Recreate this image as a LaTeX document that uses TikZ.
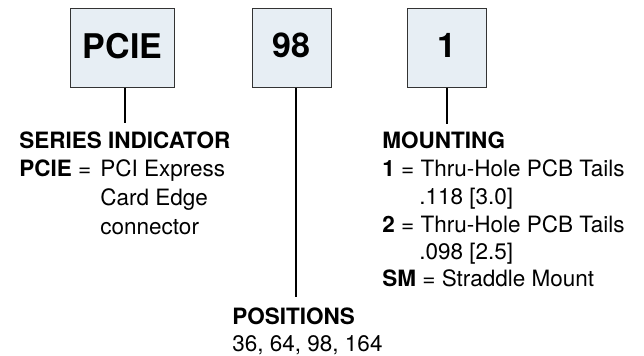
\documentclass[tikz,border=0pt]{standalone}
\usepackage{fontspec}
\setmainfont{TeX Gyre Heros}
\definecolor{boxfill}{HTML}{E7EEF4}
\definecolor{boxline}{HTML}{333333}
\tikzset{
  codebox/.style={draw=boxline, fill=boxfill, line width=0.5pt, minimum height=39.5pt,
    inner sep=0pt, text depth=3pt, font=\fontsize{17}{17}\selectfont\bfseries},
  lead/.style={line width=1pt},
  txt/.style={anchor=base west, inner sep=0pt, font=\fontsize{11.25}{14}\selectfont},
  head/.style={txt, font=\fontsize{11.25}{14}\selectfont\bfseries},
}
\begin{document}
\begin{tikzpicture}[x=0.5pt,y=-0.5pt]
  \useasboundingbox (0,0) rectangle (644,356);
  % part number boxes
  \node[codebox, minimum width=52pt] (pcie) at (122.5,48.5) {PCIE};
  \node[codebox, minimum width=39.5pt] (pos) at (291.5,48.5) {98};
  \node[codebox, minimum width=39.5pt] (mnt) at (446.5,48.5) {1};
  % lead lines
  \coordinate (serend) at (125,123);
  \coordinate (posend) at (296,297);
  \coordinate (mntend) at (447,124);
  \draw[lead] (serend |- pcie.south) -- (serend);
  \draw[lead] (posend |- pos.south) -- (posend);
  \draw[lead] (mntend |- mnt.south) -- (mntend);
  % series indicator
  \node[head] (serhead) at (19,149) {SERIES INDICATOR};
  \node[txt] (serkey) at (19,177) {\textbf{PCIE} =};
  \foreach \t [count=\i] in {PCI Express, Card Edge, connector}
    \node[txt] (ser\i) at (100,{177+28.7*(\i-1)}) {\t};
  % positions
  \node[head] (poshead) at (232,325) {POSITIONS};
  \node[txt] (posvals) at (232,352) {36, 64, 98, 164};
  % mounting
  \node[head] (mnthead) at (382,149) {MOUNTING};
  \node[txt] (mnt1) at (382,177) {\textbf{1} = Thru-Hole PCB Tails};
  \node[txt] (mnt1b) at (419,205) {.118 [3.0]};
  \node[txt] (mnt2) at (382,233) {\textbf{2} = Thru-Hole PCB Tails};
  \node[txt] (mnt2b) at (419,260) {.098 [2.5]};
  \node[txt] (mnt3) at (382,287) {\textbf{SM} = Straddle Mount};
\end{tikzpicture}
\end{document}
